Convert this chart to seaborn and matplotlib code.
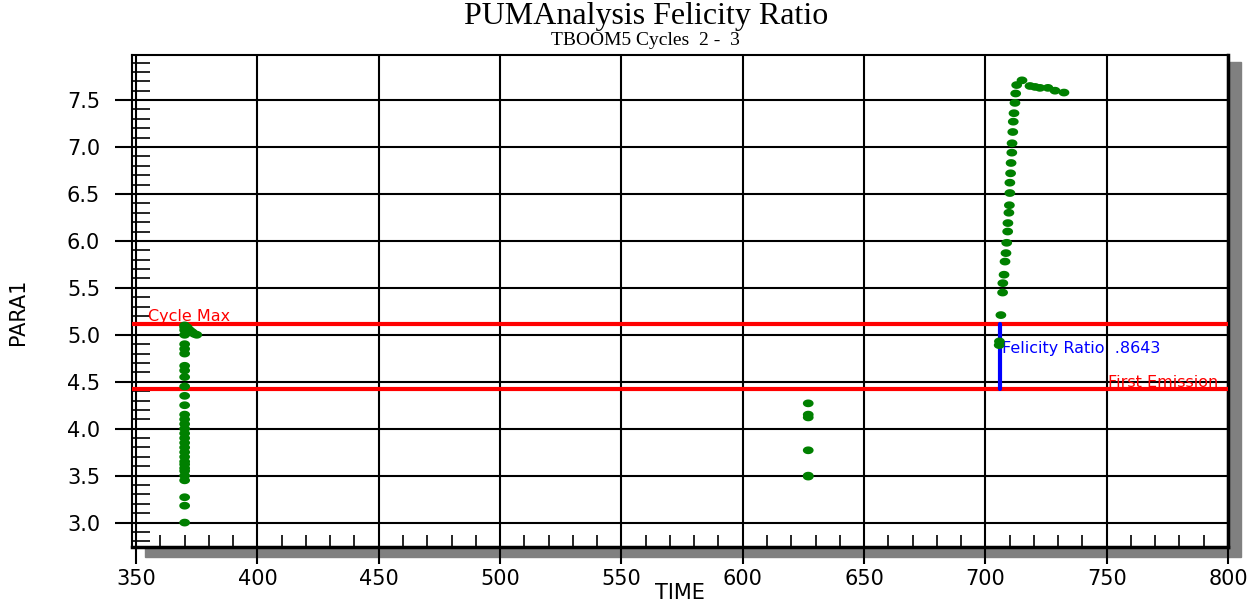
import numpy as np
import pandas as pd
import seaborn as sns
import matplotlib.pyplot as plt
from matplotlib.patches import Rectangle
from matplotlib.path import Path
from matplotlib.ticker import MultipleLocator

# hits
time_a = [370.0] * 32 + [371.0, 372.0, 373.0, 374.0, 375.0]
para_a = [3.00, 3.18, 3.27, 3.45, 3.50, 3.55, 3.58, 3.62, 3.65, 3.70, 3.75, 3.80,
          3.85, 3.90, 3.95, 4.00, 4.05, 4.10, 4.15, 4.25, 4.35, 4.45, 4.55, 4.62,
          4.67, 4.80, 4.85, 4.90, 5.00, 5.05, 5.08, 5.10,
          5.08, 5.05, 5.03, 5.01, 5.00]

time_b = [627.0, 627.0, 627.0, 627.0, 627.0, 627.0]
para_b = [4.27, 4.15, 4.12, 3.77, 3.49, 3.50]

time_c = [705.7, 705.8, 706.4, 707.1, 707.2, 707.7, 708.1, 708.5, 708.8, 709.2, 709.3,
          709.7, 709.9, 710.1, 710.1, 710.4, 710.6, 710.9, 711.0, 711.3, 711.5,
          711.8, 712.2, 712.5, 712.9, 715.1, 718.4, 720.5, 722.5, 725.8, 728.7, 732.4]
para_c = [4.89, 4.93, 5.21, 5.45, 5.55, 5.64, 5.78, 5.87, 5.98, 6.10, 6.19,
          6.30, 6.38, 6.51, 6.62, 6.72, 6.83, 6.94, 7.04, 7.16, 7.27,
          7.36, 7.47, 7.57, 7.66, 7.71, 7.65, 7.64, 7.63, 7.63, 7.60, 7.58]

cycle_max = 5.12
first_emission = 4.425
felicity_time = 706.0
felicity_ratio = ".8643"

df = pd.DataFrame({"TIME": time_a + time_b + time_c,
                   "PARA1": para_a + para_b + para_c})

sns.set_style("white")
plt.rcParams["font.family"] = ["DejaVu Sans"]
plt.rcParams["text.color"] = "black"
plt.rcParams["axes.labelcolor"] = "black"

# flat oval marker like the original
th = np.linspace(0, 2 * np.pi, 40)
oval = Path(np.column_stack([np.cos(th), 0.72 * np.sin(th)]))

fig = plt.figure(figsize=(12.59, 6.13), dpi=100)
ax = fig.add_axes([132 / 1259, 1 - 547 / 613, 1096 / 1259, 492 / 613])

# drop shadow behind the plot frame
fig.patches.append(Rectangle((145 / 1259, 1 - 557 / 613), 1096 / 1259, 495 / 613,
                             transform=fig.transFigure, color="#808080", zorder=0))
ax.set_zorder(1)
ax.set_facecolor("white")

sns.scatterplot(data=df, x="TIME", y="PARA1", ax=ax, color="green", s=60,
                marker=oval, edgecolor="none", zorder=4)

ax.axhline(cycle_max, color="red", lw=3, zorder=3)
ax.axhline(first_emission, color="red", lw=3, zorder=3)
ax.plot([felicity_time, felicity_time], [first_emission, cycle_max], color="blue", lw=3, zorder=3)

ax.text(355, cycle_max - 0.005, "Cycle Max", color="red", fontsize=11.5, va="bottom")
ax.text(796, first_emission - 0.01, "First Emission", color="red", fontsize=11.5,
        va="bottom", ha="right")
ax.text(707, 4.85, f"Felicity Ratio  {felicity_ratio}", color="blue", fontsize=11.5, va="center")

ax.set_xlim(348.3, 800)
ax.set_ylim(2.74, 7.98)
ax.xaxis.set_major_locator(MultipleLocator(50))
ax.xaxis.set_minor_locator(MultipleLocator(10))
ax.yaxis.set_major_locator(MultipleLocator(0.5))
ax.yaxis.set_minor_locator(MultipleLocator(0.1))
ax.yaxis.set_major_formatter(plt.FormatStrFormatter("%.1f"))
ax.grid(True, which="major", color="black", lw=1.5, zorder=1)
ax.tick_params(which="both", bottom=True, left=True, colors="black", labelcolor="black")
ax.tick_params(which="major", direction="out", length=12, width=1.5, labelsize=15)
ax.tick_params(which="minor", direction="in", length=13, width=1.2)
ax.tick_params(axis="x", which="minor", length=9)
ax.tick_params(axis="x", which="major", pad=4)
ax.tick_params(axis="y", which="major", pad=11)
for s in ax.spines.values():
    s.set_color("black")
    s.set_linewidth(1.5)
ax.spines["right"].set_linewidth(2.5)
ax.spines["bottom"].set_linewidth(2.5)

ax.set_xlabel("TIME", fontsize=15, va="center")
ax.set_ylabel("PARA1", fontsize=15, va="center")
ax.xaxis.set_label_coords((680 - 132) / 1096, -46 / 492)
ax.yaxis.set_label_coords(-114 / 1096, (547 - 312) / 492)

fig.text(0.513, 1 - 24 / 613, "PUMAnalysis Felicity Ratio", ha="center", va="baseline",
         fontsize=23, family="Liberation Serif")
fig.text(0.513, 1 - 45 / 613, "TBOOM5 Cycles  2 -  3", ha="center", va="baseline",
         fontsize=14, family="Liberation Serif")

fig.savefig("out.png", dpi=100)
